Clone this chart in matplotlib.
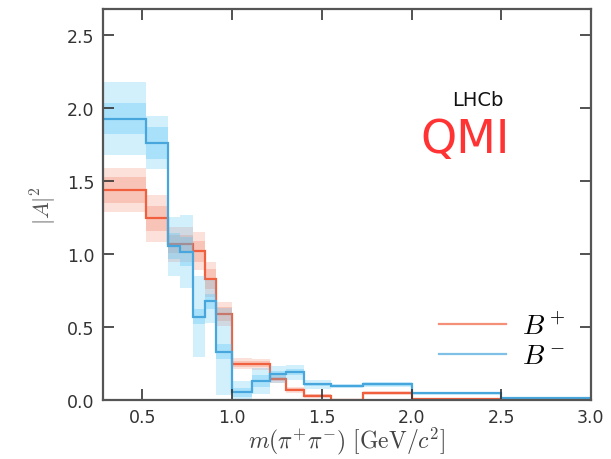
import numpy as np
import matplotlib
matplotlib.use("Agg")
import matplotlib.pyplot as plt

plt.rcParams["mathtext.fontset"] = "cm"

# bin edges in m(pi+pi-) [GeV/c^2]
edges = [0.28, 0.52, 0.64, 0.71, 0.78, 0.85, 0.91, 1.00, 1.11, 1.21, 1.30, 1.40,
         1.55, 1.73, 2.00, 2.50, 3.00]

# B+ amplitude squared and uncertainties (inner / outer band)
bplus = [1.44, 1.245, 1.07, 1.07, 1.02, 0.83, 0.59, 0.25, 0.245, 0.145, 0.07, 0.03,
         0.0, 0.05, 0.01, 0.005]
bplus_err1 = [0.09, 0.085, 0.06, 0.06, 0.07, 0.07, 0.05, 0.02, 0.02, 0.015, 0.01, 0.01,
              0.005, 0.008, 0.004, 0.003]
bplus_err2 = [0.15, 0.16, 0.12, 0.12, 0.13, 0.12, 0.08, 0.04, 0.04, 0.03, 0.02, 0.015,
              0.01, 0.012, 0.006, 0.005]

# B- amplitude squared and uncertainties
bminus = [1.93, 1.765, 1.054, 1.016, 0.573, 0.676, 0.332, 0.053, 0.13, 0.177, 0.19, 0.108,
          0.098, 0.108, 0.046, 0.012]
bminus_err1 = [0.105, 0.11, 0.09, 0.10, 0.05, 0.05, 0.05, 0.03, 0.04, 0.025, 0.02, 0.01,
               0.008, 0.008, 0.005, 0.004]
bminus_err2 = [0.25, 0.18, 0.20, 0.25, 0.28, 0.15, 0.30, 0.08, 0.09, 0.06, 0.05, 0.03,
               0.015, 0.015, 0.01, 0.008]

xticks = [0.5, 1.0, 1.5, 2.0, 2.5, 3.0]
yticks = [0.0, 0.5, 1.0, 1.5, 2.0, 2.5]

red_line = "#f0603f"
red_band = "#f4866c"
blue_line = "#47a6dc"
blue_band = "#4fc3f7"

fig = plt.figure(figsize=(6.11, 4.60), dpi=100)
ax = fig.add_axes([0.1686, 0.128, 0.7985, 0.850])

def draw(vals, e1, e2, lc, bc, label):
    v = np.asarray(vals)
    a1 = np.asarray(e1)
    a2 = np.asarray(e2)
    ax.stairs(np.clip(v + a2, 0, None), edges, baseline=np.clip(v - a2, 0, None),
              fill=True, color=bc, alpha=0.25, linewidth=0)
    ax.stairs(np.clip(v + a1, 0, None), edges, baseline=np.clip(v - a1, 0, None),
              fill=True, color=bc, alpha=0.30, linewidth=0)
    ax.stairs(v, edges, color=lc, linewidth=1.6, baseline=None)
    ax.plot([], [], color=lc, alpha=0.7, linewidth=1.6, label=label)

draw(bplus, bplus_err1, bplus_err2, red_line, red_band, r"$B^+$")
draw(bminus, bminus_err1, bminus_err2, blue_line, blue_band, r"$B^-$")

ax.set_xlim(0.28, 3.0)
ax.set_ylim(0, 2.68)
ax.set_xticks(xticks)
ax.set_yticks(yticks)
ax.set_xticklabels([f"{t:.1f}" for t in xticks])
ax.set_yticklabels([f"{t:.1f}" for t in yticks])

ax.tick_params(direction="in", top=True, right=True, length=8, width=1.2,
               colors="#333333", labelsize=12.5, pad=6)
for s in ax.spines.values():
    s.set_color("#555555")
    s.set_linewidth(1.6)

ax.set_xlabel(r"$m(\pi^{+}\pi^{-})\ [\mathrm{GeV}/c^{2}]$", fontsize=17, color="#444444",
              labelpad=-1)
ax.set_ylabel(r"$|A|^{2}$", fontsize=16, color="#555555", labelpad=6)

ax.text(0.768, 0.77, "LHCb", transform=ax.transAxes, fontsize=14, color="#111111",
        ha="center", va="center", family="DejaVu Sans")
ax.text(0.742, 0.667, "QMI", transform=ax.transAxes, fontsize=33, color="#ff3333",
        ha="center", va="center", family="DejaVu Sans")

leg = ax.legend(loc="lower right", bbox_to_anchor=(1.0, 0.015), frameon=False,
                fontsize=20, handlelength=2.4, labelspacing=0.05, handletextpad=0.6)

fig.savefig("out.png", dpi=100)
